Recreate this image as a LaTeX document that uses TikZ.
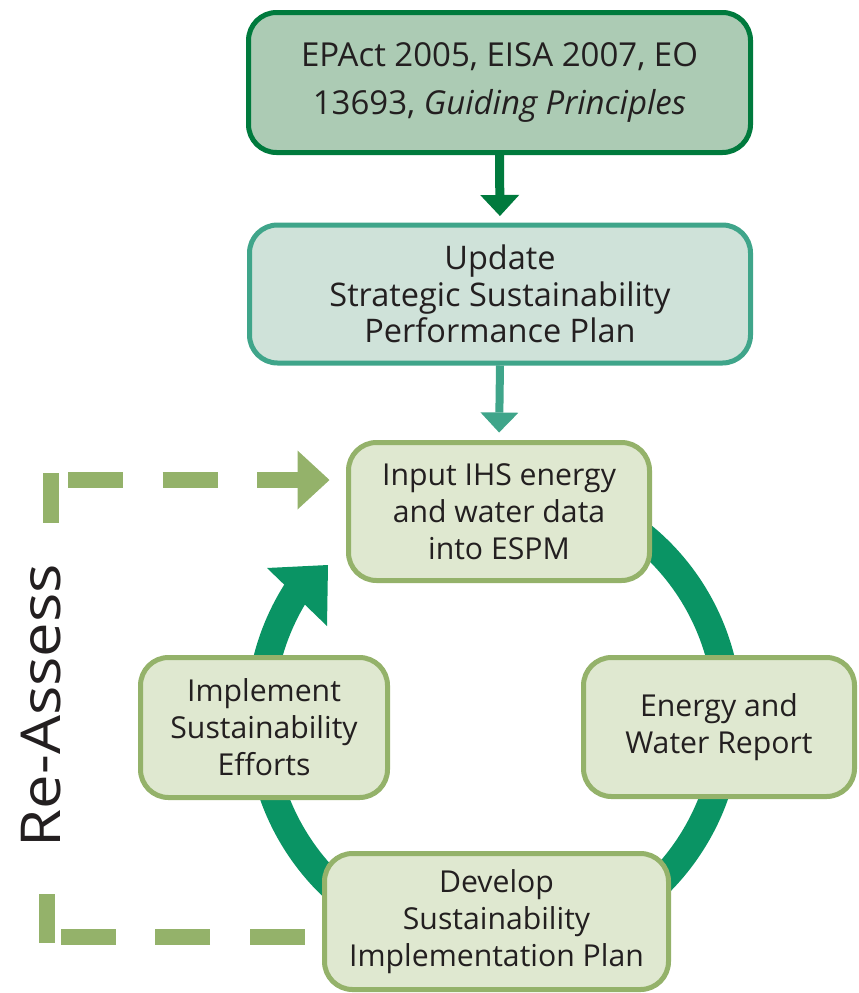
\documentclass[tikz,border=0pt]{standalone}
\usepackage{fontspec}
\setmainfont{Open Sans}
\usetikzlibrary{arrows.meta,calc,backgrounds}
\definecolor{dkgreen}{HTML}{007A3D}
\definecolor{topfill}{HTML}{ACCBB4}
\definecolor{tealb}{HTML}{3FA58A}
\definecolor{updfill}{HTML}{CFE2D9}
\definecolor{lgreen}{HTML}{94B26A}
\definecolor{boxfill}{HTML}{DFE8D0}
\definecolor{ringc}{HTML}{0A9464}
\definecolor{txt}{HTML}{231F20}
\begin{document}
\begin{tikzpicture}[x=1pt,y=-1pt,
  basebox/.style={draw, rounded corners=28pt, align=center, inner sep=0pt, text=txt, line width=5pt},
  topbox/.style={basebox, draw=dkgreen, fill=topfill, font=\fontsize{33}{48}\selectfont},
  updbox/.style={basebox, draw=tealb, fill=updfill, font=\fontsize{32.5}{36.5}\selectfont},
  cycbox/.style={basebox, draw=lgreen, fill=boxfill, font=\fontsize{30.2}{37}\selectfont},
  arrA/.style={draw=dkgreen, line width=9pt, -{Triangle[width=39pt,length=21pt,line width=0pt]}},
  arrB/.style={draw=tealb, line width=8pt, -{Triangle[width=38pt,length=20pt,line width=0pt]}},
  reline/.style={draw=lgreen, line width=16pt},
  ringline/.style={draw=ringc, line width=28pt}]
\useasboundingbox (0,0) rectangle (859,993);

% boxes
\node[topbox, minimum width=502pt, minimum height=140pt] (top) at (499.5,82.5)
  {EPAct 2005, EISA 2007, EO\\13693, \textit{Guiding Principles}};
\node[updbox, minimum width=501pt, minimum height=138pt] (upd) at (500,294)
  {Update\\Strategic Sustainability\\Performance Plan};
\node[cycbox, minimum width=301pt, minimum height=138pt] (inp) at (499,511.5)
  {Input IHS energy\\and water data\\into ESPM};
\node[cycbox, minimum width=247pt, minimum height=140pt] (imp) at (264,727.5)
  {Implement\\Sustainability\\Efforts};
\node[cycbox, minimum width=271pt, minimum height=139pt] (ene) at (719,727)
  {Energy and\\Water Report};
\node[cycbox, minimum width=344pt, minimum height=136pt] (dev) at (496.5,921.5)
  {Develop\\Sustainability\\Implementation Plan};

% cycle ring behind the boxes
\coordinate (c) at (494,717);
\begin{pgfonlayer}{background}
  \draw[ringline] ($(c)+(-60:234)$) arc[start angle=-60, end angle=213, radius=234];
  \fill[ringc] (267,568) -- (328,565) -- (327,626) -- cycle;
\end{pgfonlayer}

% straight arrows
\draw[arrA, shorten >=6.5pt] (top.south) -- (upd.north);
\draw[arrB, shorten >=7.5pt] (upd.south) -- (inp.north);

% Re-Assess loop
\coordinate (tl) at (51,480);
\coordinate (bl) at (47,937);
\draw[reline, dash pattern=on 55pt off 39.5pt, dash phase=77.5pt,
      -{Triangle[width=59pt,length=32pt,line width=0pt]}, shorten >=16.5pt]
  (tl) -- (inp.west |- tl);
\draw[reline] ($(tl)+(0,-7)$) -- ($(tl)+(0,43)$);
\draw[reline, dash pattern=on 55pt off 39.5pt, dash phase=77pt]
  (dev.west |- bl) -- (bl);
\draw[reline] ($(bl)+(0,6)$) -- ($(bl)+(0,-43)$);
\node[rotate=90, xscale=1.12, inner sep=0pt, text=txt, font=\fontsize{55}{55}\selectfont] (re) at (41,705.5) {Re-Assess};
\end{tikzpicture}
\end{document}
